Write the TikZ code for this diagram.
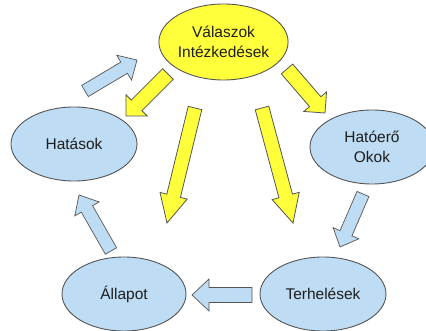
\documentclass[tikz,border=0pt]{standalone}
\usepackage{fontspec}
\setmainfont{Liberation Sans}
\usetikzlibrary{shapes.geometric,calc}
\definecolor{ylw}{RGB}{255,255,60}
\definecolor{lblue}{RGB}{190,220,243}
\definecolor{edge}{RGB}{85,85,85}
\definecolor{txt}{RGB}{30,30,30}
\tikzset{
  oval/.style={ellipse, draw=edge, line width=0.9pt, inner sep=0pt, text=txt,
    font=\fontsize{15.5}{20}\selectfont, align=center},
  yarrow/.style={fill=ylw, draw=edge, line width=0.8pt, line join=miter},
  barrowst/.style={fill=lblue, draw=edge, line width=0.7pt, line join=miter}
}
% #1 style, #2 tail, #3 tip, #4 shaft half width, #5 head half width, #6 head length
\newcommand\blockarrow[6]{%
  \coordinate (ba-b) at ($(#3)!#6!(#2)$);
  \draw[#1] ($(#2)!#4!90:(#3)$) -- ($(ba-b)!#4!90:(#3)$) -- ($(ba-b)!#5!90:(#3)$)
    -- (#3) -- ($(ba-b)!#5!-90:(#3)$) -- ($(ba-b)!#4!-90:(#3)$)
    -- ($(#2)!#4!-90:(#3)$) -- cycle;
}
\begin{document}
\begin{tikzpicture}[x=1pt,y=-1pt]
\useasboundingbox (0,0) rectangle (426,331);
\fill[white] (0,0) rectangle (426,331);
% nodes
\node[oval, fill=ylw, minimum width=124pt, minimum height=76pt] (valasz) at (223.5,42) {Válaszok\\Intézkedések};
\node[oval, fill=lblue, minimum width=126pt, minimum height=74pt] (hatas) at (74,144) {Hatások};
\node[oval, fill=lblue, minimum width=124pt, minimum height=74pt] (hatoero) at (372,147) {Hatóerő\\Okok};
\node[oval, fill=lblue, minimum width=124pt, minimum height=74pt] (allapot) at (124,294) {Állapot};
\node[oval, fill=lblue, minimum width=126pt, minimum height=74pt] (terh) at (323,294) {Terhelések};
% arrow end points
\coordinate (y1t) at (168,74);  \coordinate (y1p) at (126,116);
\coordinate (y2t) at (287,69);  \coordinate (y2p) at (325,113);
\coordinate (y3t) at (195,108); \coordinate (y3p) at (167,223);
\coordinate (y4t) at (262,108); \coordinate (y4p) at (293,223);
\coordinate (b1t) at (85,91);   \coordinate (b1p) at (137,60);
\coordinate (b2t) at (111,251); \coordinate (b2p) at (79,195);
\coordinate (b3t) at (363,194); \coordinate (b3p) at (340,247);
\coordinate (b4t) at (252,295); \coordinate (b4p) at (192,295);
% yellow arrows
\blockarrow{yarrow}{y1t}{y1p}{7.5pt}{15pt}{15pt}
\blockarrow{yarrow}{y2t}{y2p}{7.5pt}{15pt}{15pt}
\blockarrow{yarrow}{y3t}{y3p}{7pt}{14pt}{28pt}
\blockarrow{yarrow}{y4t}{y4p}{7pt}{14pt}{28pt}
% blue arrows
\blockarrow{barrowst}{b1t}{b1p}{6.5pt}{14.5pt}{15pt}
\blockarrow{barrowst}{b2t}{b2p}{6.5pt}{14pt}{16pt}
\blockarrow{barrowst}{b3t}{b3p}{6.5pt}{14pt}{15pt}
\blockarrow{barrowst}{b4t}{b4p}{7.5pt}{16pt}{17pt}
\end{tikzpicture}
\end{document}
